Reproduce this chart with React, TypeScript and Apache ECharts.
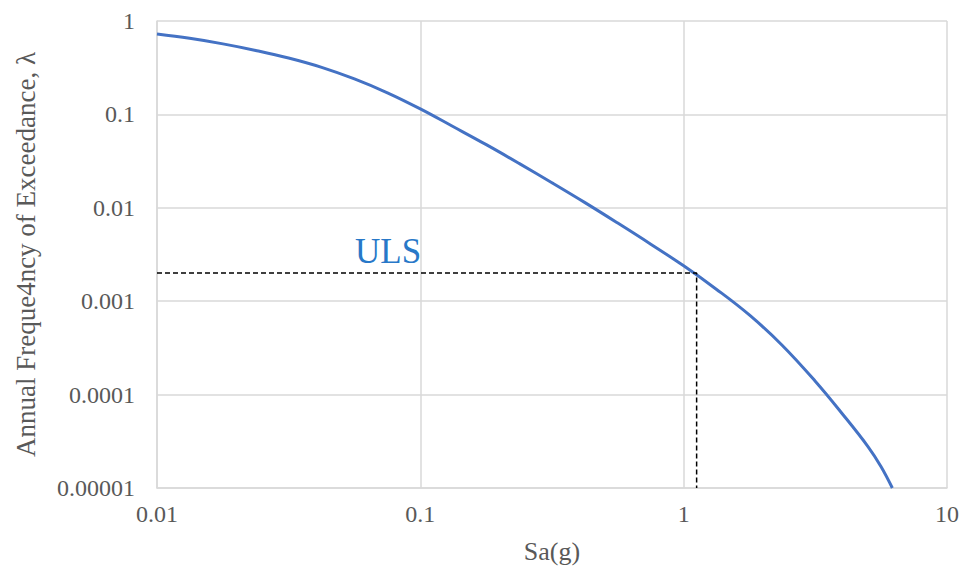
import React, { useEffect, useRef } from "react";
import * as echarts from "echarts";

// Hazard curve: spectral acceleration Sa (g) vs annual frequency of exceedance
const saValues = [
  0.01, 0.0133, 0.0178, 0.0237, 0.0316, 0.0422, 0.0562, 0.075, 0.1, 0.133,
  0.178, 0.237, 0.316, 0.422, 0.562, 0.75, 1, 1.33, 1.78, 2.37, 3.16, 3.98,
  5.01, 5.62, 6.2,
];
const lambdaValues = [
  0.726, 0.652, 0.569, 0.484, 0.4015, 0.319, 0.2398, 0.1703, 0.1145, 0.0742,
  0.0474, 0.0299, 0.01856, 0.01136, 0.00686, 0.00408, 0.00239, 0.001345,
  0.000708, 0.000336, 0.000139, 0.0000636, 0.0000278, 0.0000169, 0.00001,
];

// ULS design point
const ulsSa = 1.12;
const ulsLambda = 0.002;

const xTickLabels = ["0.01", "0.1", "1", "10"];
const yTickLabels = ["0.00001", "0.0001", "0.001", "0.01", "0.1", "1"];

const pickLabel = (labels: string[], v: number) => {
  const lg = Math.log10(v);
  let best = labels[0];
  let bestD = Infinity;
  for (const l of labels) {
    const d = Math.abs(Math.log10(parseFloat(l)) - lg);
    if (d < bestD) {
      bestD = d;
      best = l;
    }
  }
  return best;
};

const SERIF = "Liberation Serif";
const GRID = "#d9d9d9";
const LABEL = "#595959";

export default function App() {
  const ref = useRef<HTMLDivElement>(null);

  useEffect(() => {
    document.body.style.margin = "0";
    if (!ref.current) return;
    const chart = echarts.init(ref.current, undefined, { renderer: "svg" });

    const curve = saValues.map((x, i) => [x, lambdaValues[i]]);
    const ulsGuide = [
      [0.01, ulsLambda],
      [ulsSa, ulsLambda],
      [ulsSa, 0.00001],
    ];

    chart.setOption({
      animation: false,
      backgroundColor: "#ffffff",
      grid: { left: 157, right: 14, top: 21, bottom: 81 },
      xAxis: {
        type: "log",
        logBase: 10,
        min: 0.01,
        max: 10,
        name: "Sa(g)",
        nameLocation: "middle",
        nameGap: 50,
        nameTextStyle: { fontFamily: SERIF, fontSize: 26, color: LABEL },
        axisLine: { show: true, lineStyle: { color: GRID, width: 1.5 } },
        axisTick: { show: false },
        minorTick: { show: false },
        axisLabel: {
          fontFamily: SERIF,
          fontSize: 24,
          color: LABEL,
          margin: 14,
          formatter: (v: number) => pickLabel(xTickLabels, v),
        },
        splitLine: { show: true, lineStyle: { color: GRID, width: 1.5 } },
      },
      yAxis: {
        type: "log",
        logBase: 10,
        min: 0.00001,
        max: 1,
        name: "Annual Freque4ncy of Exceedance, λ",
        nameLocation: "middle",
        nameGap: 118,
        nameTextStyle: { fontFamily: SERIF, fontSize: 27, color: LABEL },
        axisLine: { show: true, lineStyle: { color: GRID, width: 1.5 } },
        axisTick: { show: false },
        axisLabel: {
          fontFamily: SERIF,
          fontSize: 24,
          color: LABEL,
          margin: 22,
          formatter: (v: number) => pickLabel(yTickLabels, v),
        },
        splitLine: { show: true, lineStyle: { color: GRID, width: 1.5 } },
      },
      series: [
        {
          name: "Hazard",
          type: "line",
          data: curve,
          smooth: 0.4,
          showSymbol: false,
          lineStyle: { color: "#4472C4", width: 3 },
          z: 3,
        },
        {
          name: "ULS",
          type: "line",
          data: ulsGuide,
          showSymbol: false,
          lineStyle: { color: "#000000", width: 1.5, type: [5, 3] },
          z: 4,
        },
      ],
      graphic: [
        {
          type: "text",
          left: 355,
          top: 234,
          style: {
            text: "ULS",
            fill: "#2878C8",
            fontFamily: SERIF,
            fontSize: 35,
          },
        },
      ],
    });

    return () => chart.dispose();
  }, []);

  return <div ref={ref} style={{ width: 962, height: 569 }} />;
}
